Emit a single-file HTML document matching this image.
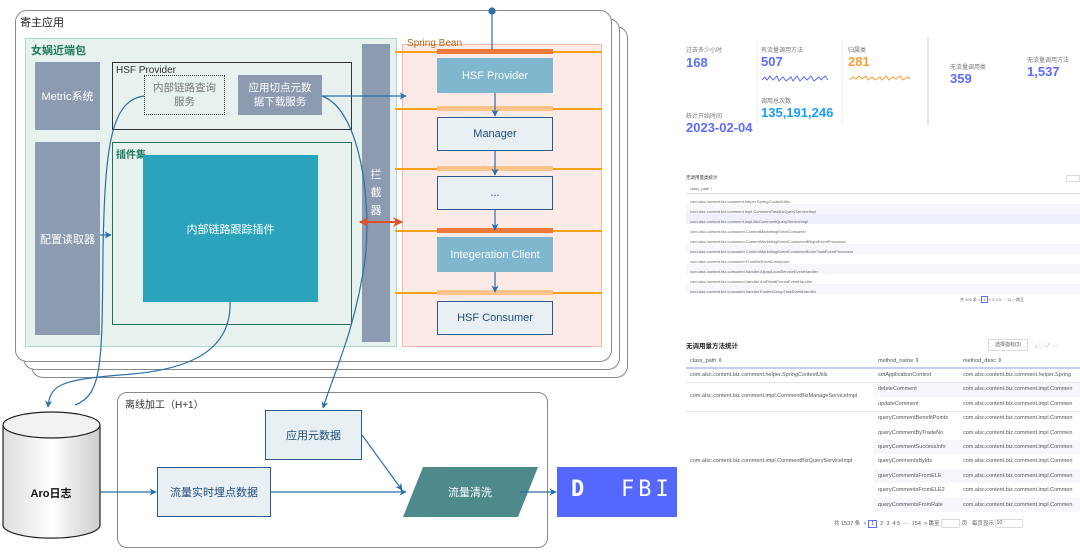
<!DOCTYPE html>
<html><head><meta charset="utf-8"><style>
*{margin:0;padding:0;box-sizing:border-box}
body{width:1080px;height:555px;background:#fff;position:relative;overflow:hidden;font-family:"Liberation Sans","Noto Sans CJK SC",sans-serif}
.a{position:absolute}
.c{display:flex;align-items:center;justify-content:center;text-align:center}
.g{background:#8c9bb0;color:#fff;font-size:11px}
.sb{background:#7fb7cf;color:#fff;font-size:11px}
.sl{background:#e8f0f4;border:1.5px solid #2c5a8c;color:#1f4e79;font-size:11px}
.t{font-size:6px;color:#777;white-space:nowrap}
.n{font-size:13px;font-weight:bold;white-space:nowrap}
.r{font-size:4px;color:#666;white-space:nowrap}
.m{font-size:5.5px;color:#555;white-space:nowrap}
</style></head><body>
<div class="a" style="left:31px;top:26px;width:597px;height:352px;border:1.5px solid #888;border-radius:12px;background:#fff"></div>
<div class="a" style="left:23px;top:18px;width:597px;height:352px;border:1.5px solid #888;border-radius:12px;background:#fff"></div>
<div class="a" style="left:15px;top:10px;width:597px;height:352px;border:1.5px solid #888;border-radius:12px;background:#fff"></div>
<div class="a" style="left:20px;top:14px;font-size:11px;color:#222">寄主应用</div>
<div class="a" style="left:25px;top:38px;width:372px;height:309px;background:#e7f2ee;border:1.5px solid #a8dcc8"></div>
<div class="a" style="left:31px;top:42px;font-size:11px;color:#1d7a5a;font-weight:bold">女娲近端包</div>
<div class="a c g" style="left:35px;top:62px;width:65px;height:68px">Metric系统</div>
<div class="a c g" style="left:35px;top:142px;width:65px;height:193px">配置读取器</div>
<div class="a" style="left:112px;top:62px;width:240px;height:68px;border:1.5px solid #333"></div>
<div class="a" style="left:116px;top:65px;font-size:10px;color:#333">HSF Provider</div>
<div class="a c" style="left:144px;top:75px;width:81px;height:40px;border:1.5px dotted #333;color:#777;font-size:10.5px;line-height:14px">内部链路查询<br>服务</div>
<div class="a c g" style="left:238px;top:75px;width:84px;height:40px;line-height:14px;font-size:10.5px">应用切点元数<br>据下载服务</div>
<div class="a" style="left:112px;top:142px;width:240px;height:183px;border:1.5px solid #2d6b5e"></div>
<div class="a" style="left:116px;top:146px;font-size:10px;color:#1d7a5a;font-weight:bold">插件集</div>
<div class="a c" style="left:143px;top:155px;width:175px;height:147px;background:#2ca3bd;color:#fff;font-size:11px">内部链路跟踪插件</div>
<div class="a c g" style="left:362px;top:44px;width:28px;height:298px;line-height:18px">拦<br>截<br>器</div>
<div class="a" style="left:402px;top:44px;width:200px;height:303px;background:#fbeae5;border:1.5px solid #f5b9a5"></div>
<div class="a" style="left:407px;top:38px;font-size:10px;color:#b5651d">Spring Bean</div>
<div class="a" style="left:395px;top:51px;width:207px;height:2px;background:#f4a21c"></div>
<div class="a" style="left:395px;top:108px;width:207px;height:2px;background:#f4a21c"></div>
<div class="a" style="left:395px;top:168px;width:207px;height:2px;background:#f4a21c"></div>
<div class="a" style="left:395px;top:230px;width:207px;height:2px;background:#f4a21c"></div>
<div class="a" style="left:395px;top:292px;width:207px;height:2px;background:#f4a21c"></div>
<div class="a" style="left:437px;top:49px;width:116px;height:5px;background:#ec7a3a"></div>
<div class="a" style="left:437px;top:106px;width:116px;height:5px;background:#fcc48a"></div>
<div class="a" style="left:437px;top:166px;width:116px;height:5px;background:#fcc48a"></div>
<div class="a" style="left:437px;top:228px;width:116px;height:5px;background:#ec7a3a"></div>
<div class="a" style="left:437px;top:290px;width:116px;height:5px;background:#fcc48a"></div>
<div class="a c sb" style="left:437px;top:58px;width:116px;height:35px">HSF Provider</div>
<div class="a c sl" style="left:437px;top:117px;width:116px;height:34px">Manager</div>
<div class="a c sl" style="left:437px;top:176px;width:116px;height:34px">...</div>
<div class="a c sb" style="left:437px;top:237px;width:116px;height:35px">Integeration Client</div>
<div class="a c sl" style="left:437px;top:301px;width:116px;height:34px">HSF Consumer</div>
<div class="a" style="left:117px;top:392px;width:431px;height:156px;border:1.5px solid #888;border-radius:10px"></div>
<div class="a" style="left:125px;top:396px;font-size:10px;color:#333">离线加工（H+1）</div>
<div class="a c sl" style="left:265px;top:410px;width:97px;height:50px">应用元数据</div>
<div class="a c sl" style="left:157px;top:467px;width:114px;height:50px">流量实时埋点数据</div>
<svg class="a" style="left:0;top:0" width="1080" height="555">
<defs><marker id="ar" viewBox="0 0 10 10" refX="9" refY="5" markerWidth="6" markerHeight="6" orient="auto"><path d="M0,0L10,5L0,10L3,5z" fill="#2a6fa8"/></marker>
<marker id="ro" viewBox="0 0 10 10" refX="9" refY="5" markerWidth="5" markerHeight="5" orient="auto-start-reverse"><path d="M0,0L10,5L0,10L3,5z" fill="#e0502a"/></marker>
<linearGradient id="cy" x1="0" x2="1"><stop offset="0" stop-color="#ddd"/><stop offset=".5" stop-color="#fff"/><stop offset="1" stop-color="#ccc"/></linearGradient></defs>
<polygon points="423,467 538,467 518,517 403,517" fill="#4e8a8c"/>
<text x="470" y="496" fill="#fff" font-size="11" text-anchor="middle">流量清洗</text>
<path d="M3,425 L3,525 A48,13 0 0 0 100,525 L100,425" fill="url(#cy)" stroke="#222" stroke-width="1.2"/>
<ellipse cx="51.5" cy="425" rx="48.5" ry="13" fill="#f2f2f2" stroke="#222" stroke-width="1.2"/>
<text x="51" y="497" font-size="11" font-weight="bold" text-anchor="middle" fill="#111">Aro日志</text>
<g stroke="#2a6fa8" stroke-width="1.2" fill="none">
<circle cx="492" cy="11" r="3" fill="#2a6fa8"/>
<line x1="492" y1="11" x2="492" y2="50"/>
<line x1="495" y1="93" x2="495" y2="116" marker-end="url(#ar)"/>
<line x1="495" y1="151" x2="495" y2="175" marker-end="url(#ar)"/>
<line x1="495" y1="210" x2="495" y2="230" marker-end="url(#ar)"/>
<line x1="495" y1="272" x2="495" y2="292" marker-end="url(#ar)"/>
<line x1="322" y1="96" x2="406" y2="96" marker-end="url(#ar)"/>
<line x1="100" y1="235" x2="111" y2="235" marker-end="url(#ar)"/>
<path d="M144,96 C110,100 105,150 103,250 C102,360 103,395 75,405"/>
<path d="M230,302 C232,360 170,372 120,375 C60,380 50,385 48,407" marker-end="url(#ar)"/>
<path d="M322,96 C360,110 372,200 365,260 C355,330 335,370 323,408" marker-end="url(#ar)"/>
<line x1="362" y1="435" x2="402" y2="490" marker-end="url(#ar)"/>
<line x1="271" y1="492" x2="406" y2="492" marker-end="url(#ar)"/>
<line x1="100" y1="492" x2="156" y2="492" marker-end="url(#ar)"/>
<line x1="520" y1="492" x2="556" y2="492" marker-end="url(#ar)"/>
</g>
<line x1="360" y1="222" x2="402" y2="222" stroke="#e0502a" stroke-width="2" marker-start="url(#ro)" marker-end="url(#ro)"/>
<path d="M762,80 l3,-3 l2,3 l3,-4 l3,4 l4,-4 l2,5 l4,-4 l3,4 l5,-4 l2,4 l4,-5 l3,5 l4,-4 l3,3 l4,-4 l3,5 l5,-4 l2,3 l4,-4 l3,4" stroke="#5b6cff" stroke-width="1" fill="none"/>
<path d="M850,80 l3,-3 l3,2 l3,-3 l3,3 l4,-3 l2,4 l4,-3 l3,3 l5,-3 l2,3 l4,-4 l3,4 l4,-3 l3,2 l4,-3 l3,4 l5,-3 l2,2" stroke="#f5a03a" stroke-width="1" fill="none"/>
<line x1="928" y1="38" x2="928" y2="125" stroke="#ccc" stroke-width="1"/>
<line x1="757" y1="40" x2="757" y2="125" stroke="#eee"/>
<line x1="842" y1="40" x2="842" y2="125" stroke="#eee"/>
</svg>
<div class="a" style="left:557px;top:467px;width:120px;height:50px;background:#5468ff;color:#fff;font-size:22px;font-family:'DejaVu Sans Mono',monospace">
<span class="a" style="left:14px;top:10px;font-weight:bold">D</span><span class="a" style="left:64px;top:10px;letter-spacing:4px">FBI</span></div>
<div class="a t" style="left:686px;top:45px">过去多少小时</div><div class="a n" style="left:686px;top:55px;color:#5b6cff">168</div>
<div class="a t" style="left:761px;top:45px">有流量调用方法</div><div class="a n" style="left:761px;top:54px;color:#5b6cff">507</div>
<div class="a t" style="left:848px;top:45px">归属类</div><div class="a n" style="left:848px;top:54px;color:#f5a03a">281</div>
<div class="a t" style="left:950px;top:62px">无流量调用类</div><div class="a n" style="left:950px;top:71px;color:#5b6cff">359</div>
<div class="a t" style="left:1027px;top:55px">无流量调用方法</div><div class="a n" style="left:1027px;top:64px;color:#5b6cff">1,537</div>
<div class="a t" style="left:761px;top:96px">调用总次数</div><div class="a n" style="left:761px;top:105px;color:#1a9cff">135,191,246</div>
<div class="a t" style="left:686px;top:111px">统计开始时间</div><div class="a n" style="left:686px;top:120px;color:#5b6cff">2023-02-04</div>
<div class="a" style="left:686px;top:175px;font-size:4.5px;color:#333">无调用量类统计</div>
<div class="a" style="left:1066px;top:175px;width:14px;height:7px;border:1px solid #ddd"></div>
<div class="a r" style="left:690px;top:186px">class_path ↑</div>
<div class="a" style="left:686px;top:193px;width:394px;height:1px;background:#dde"></div>
<div class="a" style="left:686px;top:204px;width:394px;height:10px;background:#f5f7fc"></div>
<div class="a" style="left:686px;top:214px;width:394px;height:10px;background:#eef1fb"></div>
<div class="a" style="left:686px;top:244px;width:394px;height:10px;background:#f5f7fc"></div>
<div class="a" style="left:686px;top:264px;width:394px;height:10px;background:#f5f7fc"></div>
<div class="a" style="left:686px;top:284px;width:394px;height:10px;background:#f5f7fc"></div>
<div class="a r" style="left:690px;top:197px;line-height:10px">com.alsc.content.biz.comment.helper.SpringContextUtils<br>com.alsc.content.biz.comment.impl.CommentTaskBizQueryServiceImpl<br>com.alsc.content.biz.comment.impl.BizCommentQueryServiceImpl<br>com.alsc.content.biz.consumer.ContentMarketingEventConsumer<br>com.alsc.content.biz.consumer.ContentMarketingEventConsumer$RightEventProcessor<br>com.alsc.content.biz.consumer.ContentMarketingEventConsumer$UserTaskEventProcessor<br>com.alsc.content.biz.consumer.FromBizEventConsumer<br>com.alsc.content.biz.consumer.handler.AlipayLocalServiceEventHandler<br>com.alsc.content.biz.consumer.handler.AntRetailPromoEventHandler<br>com.alsc.content.biz.consumer.handler.KoubeiGroupTaskEventHandler</div>
<div class="a r" style="left:960px;top:297px">共 109 条 &lt; <span style="border:1px solid #5b6cff;padding:0 1px">1</span> 2 3 4 5 ··· 11 &gt; 跳至</div>
<div class="a" style="left:686px;top:340px;font-size:6.5px;font-weight:bold;color:#222">无调用量方法统计</div>
<div class="a" style="left:988px;top:339px;width:40px;height:12px;border:1px solid #ddd;font-size:5px;color:#555;text-align:center;line-height:10px">选择指标(3)</div>
<div class="a m" style="left:1035px;top:341px;color:#aaa">⤓ ▢ ⤢ ···</div>
<div class="a m" style="left:690px;top:358px">class_path ⇕</div>
<div class="a m" style="left:878px;top:358px">method_name ⇕</div>
<div class="a m" style="left:963px;top:358px">method_desc ⇕</div>
<div class="a" style="left:686px;top:367px;width:394px;height:2px;background:#c7cdf7"></div>
<div class="a" style="left:686px;top:382px;width:394px;height:1px;background:#e6e8ef"></div>
<div class="a" style="left:686px;top:411px;width:394px;height:1px;background:#e6e8ef"></div>
<div class="a" style="left:873px;top:383px;width:207px;height:14px;background:#f5f7fc"></div>
<div class="a" style="left:873px;top:440px;width:207px;height:14px;background:#f5f7fc"></div>
<div class="a" style="left:873px;top:469px;width:207px;height:14px;background:#f5f7fc"></div>
<div class="a" style="left:873px;top:498px;width:207px;height:14px;background:#f5f7fc"></div>
<div class="a m" style="left:690px;top:372px">com.alsc.content.biz.comment.helper.SpringContextUtils</div>
<div class="a m" style="left:690px;top:393px">com.alsc.content.biz.comment.impl.CommentBizManageServiceImpl</div>
<div class="a m" style="left:690px;top:458px">com.alsc.content.biz.comment.impl.CommentBizQueryServiceImpl</div>
<div class="a m" style="left:878px;top:368px;line-height:14.4px">setApplicationContext<br>deleteComment<br>updateComment<br>queryCommentBenefitPoints<br>queryCommentByTradeNo<br>queryCommentSuccessInfo<br>queryCommentsByIds<br>queryCommentsFromELE<br>queryCommentsFromELE2<br>queryCommentsFromRate</div>
<div class="a m" style="left:963px;top:368px;line-height:14.4px;width:117px;overflow:hidden">com.alsc.content.biz.comment.helper.Spring<br>com.alsc.content.biz.comment.impl.Commen<br>com.alsc.content.biz.comment.impl.Commen<br>com.alsc.content.biz.comment.impl.Commen<br>com.alsc.content.biz.comment.impl.Commen<br>com.alsc.content.biz.comment.impl.Commen<br>com.alsc.content.biz.comment.impl.Commen<br>com.alsc.content.biz.comment.impl.Commen<br>com.alsc.content.biz.comment.impl.Commen<br>com.alsc.content.biz.comment.impl.Commen</div>
<div class="a m" style="left:834px;top:519px">共 1537 条 &nbsp;&lt; <span style="border:1px solid #5b6cff;padding:0 2px">1</span> &nbsp;2 &nbsp;3 &nbsp;4 5 &nbsp;··· &nbsp;154 &nbsp;&gt; 跳至 <span style="display:inline-block;width:19px;height:9px;border:1px solid #ddd;vertical-align:middle"></span> 页 &nbsp;&nbsp;每页显示 <span style="display:inline-block;width:28px;height:9px;border:1px solid #ddd;vertical-align:middle">10</span></div>
</body></html>
